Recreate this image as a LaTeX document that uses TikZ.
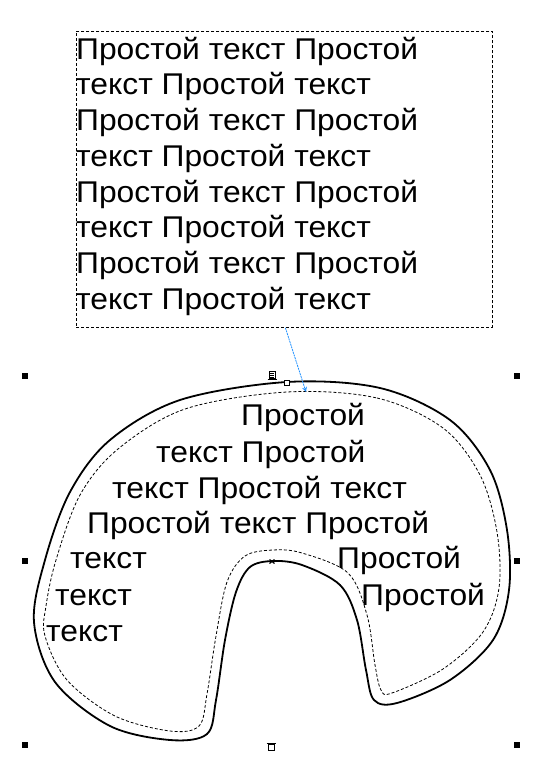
\documentclass[tikz,border=0pt]{standalone}
\usepackage{fontspec}
\setmainfont[FakeStretch=1.06]{Liberation Sans}
\usetikzlibrary{arrows.meta}
\begin{document}
\begin{tikzpicture}[x=1pt,y=-1pt,
  txt/.style={anchor=base west, inner sep=0pt, font=\fontsize{30}{36}\selectfont},
  handle/.style={fill=black, minimum size=6pt, inner sep=0pt, draw=none},
  outline/.style={line width=1.8pt, line join=round},
  innerline/.style={line width=0.8pt, dash pattern=on 3pt off 2pt},
  boxline/.style={line width=0.8pt, dash pattern=on 3pt off 2pt}]
\useasboundingbox (0,0) rectangle (549,762);
% text frame
\node[boxline, draw, minimum width=416pt, minimum height=296pt, inner sep=0pt, anchor=north west] (box) at (76,31) {};
\foreach \t [count=\i from 0] in {Простой текст Простой, текст Простой текст, Простой текст Простой, текст Простой текст, Простой текст Простой, текст Простой текст, Простой текст Простой, текст Простой текст}
  \node[txt] (b\i) at (76,59.3+35.7*\i) {\t};
% outer shape
\draw[outline] plot[smooth cycle, tension=0.55] coordinates {
 (287,382) (380,388) (450,420) (490,470) (507,530) (509,590) (493,640) (450,680) (397,703) (374,700)
 (366,670) (357,620) (340,585) (302,565) (273,561) (250,567) (236,592) (225,640) (216,700) (207,734)
 (170,740) (110,726) (55,682) (34,622) (45,560) (70,492) (110,440) (180,400)};
% inner dashed
\draw[innerline] plot[smooth cycle, tension=0.55] coordinates {
 (287,392) (377,398) (443,428) (480,475) (497,532) (499,588) (483,632) (443,669) (392,693) (381,690)
 (375,665) (367,615) (348,573) (302,553) (273,550) (245,556) (227,582) (216,636) (207,694) (199,726)
 (170,731) (115,716) (67,680) (45,636) (46,606) (56,560) (80,495) (118,449) (185,409)};
% text inside shape
\node[txt] (s1) at (241,425) {Простой};
\node[txt] (s2) at (156,462) {текст Простой};
\node[txt] (s3) at (112,498) {текст Простой текст};
\node[txt] (s4) at (87,533) {Простой текст Простой};
\node[txt] (s5a) at (70,568) {текст};
\node[txt] (s5b) at (337,568) {Простой};
\node[txt] (s6a) at (55,605) {текст};
\node[txt] (s6b) at (361,605) {Простой};
\node[txt] (s7) at (46,641) {текст};
% selection handles
\node[handle] (h1) at (25,376) {};
\node[handle] (h2) at (517,376) {};
\node[handle] (h3) at (25,561) {};
\node[handle] (h4) at (517,561) {};
\node[handle] (h5) at (25,745) {};
\node[handle] (h6) at (517,745) {};
% small markers
\node[draw, line width=0.8pt, minimum size=5pt, inner sep=0pt, fill=white] (sq) at (287,383) {};
\node[draw, line width=0.7pt, minimum width=6pt, minimum height=7pt, inner sep=0pt] (doc) at (272,375) {};
\draw[line width=0.5pt] (270,373.5) -- (274,373.5) (270,375.5) -- (274,375.5) (270,377.5) -- (274,377.5);
\draw[line width=0.8pt] (267.5,379.5) -- (276.5,379.5);
\node[draw, line width=0.8pt, minimum size=6pt, inner sep=0pt] (bt) at (271,747) {};
\draw[line width=0.9pt] (266.5,743.5) -- (275.5,743.5);
\coordinate (xm) at (272,561.5);
\draw[line width=1.2pt] ([shift={(-2.5,-2)}]xm) -- ([shift={(2.5,2)}]xm) ([shift={(-2.5,2)}]xm) -- ([shift={(2.5,-2)}]xm);
% link arrow
\coordinate (ae) at (306,392);
\draw[color={rgb,255:red,30;green,144;blue,255}, line width=0.8pt, dash pattern=on 2pt off 0.8pt, -{Stealth[open, length=5pt, width=5pt]}] ([xshift=1pt]box.south) -- (ae);
\end{tikzpicture}
\end{document}
